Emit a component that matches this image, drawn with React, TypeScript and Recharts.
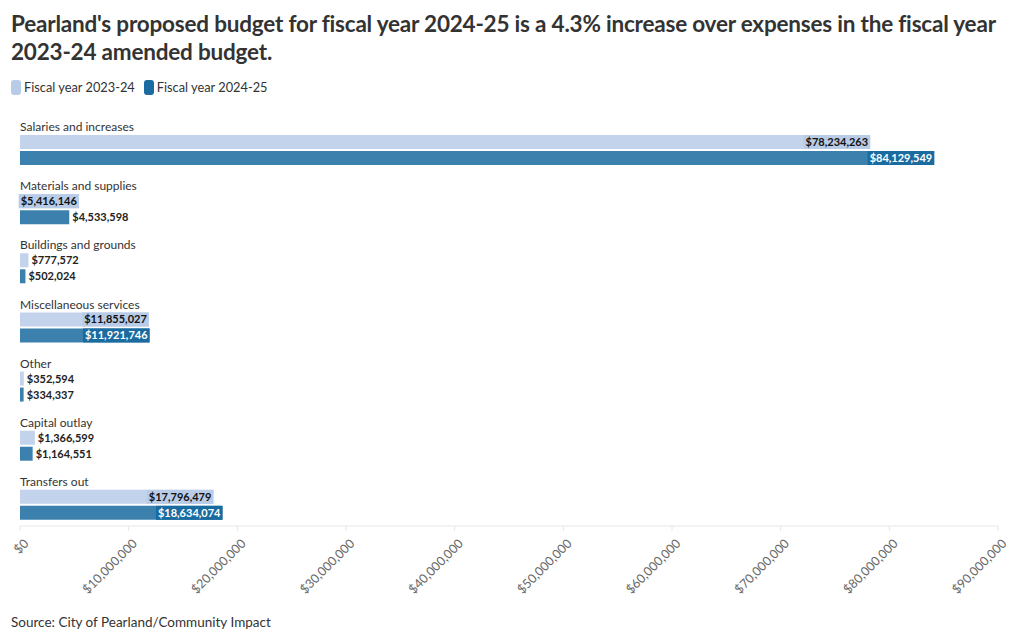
import React from 'react';
import { BarChart, Bar, XAxis, YAxis, LabelList } from 'recharts';

const categories = [
  'Salaries and increases',
  'Materials and supplies',
  'Buildings and grounds',
  'Miscellaneous services',
  'Other',
  'Capital outlay',
  'Transfers out',
];
const fy2324 = [78234263, 5416146, 777572, 11855027, 352594, 1366599, 17796479];
const fy2425 = [84129549, 4533598, 502024, 11921746, 334337, 1164551, 18634074];
const xTicks = [0, 10000000, 20000000, 30000000, 40000000, 50000000, 60000000, 70000000, 80000000, 90000000];

const FONT = 'Lato, "Open Sans", sans-serif';
const LABEL_FONT = 'bold 11px "Liberation Sans Narrow", Lato, sans-serif';
const LIGHT = '#b8cbe7';
const DARK = '#1a6b9f';

const money = (v: number) => '$' + v.toLocaleString('en-US');

let ctx: CanvasRenderingContext2D | null = null;
function textWidth(s: string) {
  if (!ctx) ctx = document.createElement('canvas').getContext('2d');
  if (!ctx) return s.length * 5.5;
  ctx.font = LABEL_FONT;
  return ctx.measureText(s).width;
}

const makeLabel = (box: string, insideText: string) => (props: any) => {
  const { x, y, width, height, value } = props;
  const s = money(Number(value));
  const w = textWidth(s);
  const cy = y + height / 2;
  if (width >= w) {
    return (
      <g>
        <rect x={x + width - w - 4} y={y} width={w + 4} height={height} fill={box} />
        <text x={x + width - 2} y={cy} dy="0.36em" textAnchor="end" fill={insideText}
          style={{ font: LABEL_FONT }}>{s}</text>
      </g>
    );
  }
  return (
    <text x={x + width + 3} y={cy} dy="0.36em" textAnchor="start" fill="#222"
      style={{ font: LABEL_FONT }}>{s}</text>
  );
};

// category name above the light bar, in the room left by the empty spacer series
const CategoryLabel = (props: any) => {
  const { x, y, value } = props;
  return (
    <text x={x} y={y - 8} dy="0.35em" textAnchor="start" fill="#333" fontSize={12} fontFamily={FONT}>
      {value}
    </text>
  );
};

const MoneyTick = (props: any) => {
  const { x, y, payload } = props;
  return (
    <text x={x + 4} y={y + 6} transform={`rotate(-45 ${x + 4} ${y + 6})`} textAnchor="end" dy="0.6em"
      fill="#666" fontSize={12.5} fontFamily={FONT}>
      {money(payload.value)}
    </text>
  );
};

export default function App() {
  const data = categories.map((name, i) => ({ name, spacer: 0, fy2324: fy2324[i], fy2425: fy2425[i] }));
  return (
    <div style={{ position: 'relative', width: 1020, height: 643, margin: -8, background: '#fff', fontFamily: FONT }}>
      <div style={{ position: 'absolute', left: 11, top: 10, width: 1005, fontSize: 22.5, letterSpacing: -0.2, fontWeight: 700, lineHeight: '28px', color: '#333' }}>
        Pearland's proposed budget for fiscal year 2024-25 is a 4.3% increase over expenses in the fiscal year 2023-24 amended budget.
      </div>
      <div style={{ position: 'absolute', left: 11, top: 79, display: 'flex', alignItems: 'center', fontSize: 12.8, color: '#333' }}>
        <span style={{ width: 10, height: 15, borderRadius: 3, background: LIGHT, display: 'inline-block', marginRight: 3 }} />
        <span style={{ marginRight: 9 }}>Fiscal year 2023-24</span>
        <span style={{ width: 10, height: 15, borderRadius: 3, background: DARK, display: 'inline-block', marginRight: 3 }} />
        <span>Fiscal year 2024-25</span>
      </div>
      <div style={{ position: 'absolute', left: 0, top: 0 }}>
        <BarChart width={1020} height={643} data={data} layout="vertical" barSize={14} barGap={2}
          margin={{ top: 112, right: 22, left: 20, bottom: 47 }}>
          <XAxis type="number" domain={[0, 90000000]} ticks={xTicks} interval={0} height={70}
            tick={<MoneyTick />} axisLine={{ stroke: '#e6e6e6' }} tickLine={{ stroke: '#e6e6e6' }} tickSize={5} />
          <YAxis type="category" dataKey="name" hide />
          <Bar dataKey="spacer" fill="none" isAnimationActive={false} />
          <Bar dataKey="fy2324" fill={LIGHT} fillOpacity={0.85} isAnimationActive={false}>
            <LabelList dataKey="name" content={CategoryLabel} />
            <LabelList dataKey="fy2324" content={makeLabel(LIGHT, '#111')} />
          </Bar>
          <Bar dataKey="fy2425" fill={DARK} fillOpacity={0.85} isAnimationActive={false}>
            <LabelList dataKey="fy2425" content={makeLabel(DARK, '#fff')} />
          </Bar>
        </BarChart>
      </div>
      <div style={{ position: 'absolute', left: 11, top: 614, fontSize: 13.5, color: '#333' }}>
        Source: City of Pearland/Community Impact
      </div>
    </div>
  );
}
